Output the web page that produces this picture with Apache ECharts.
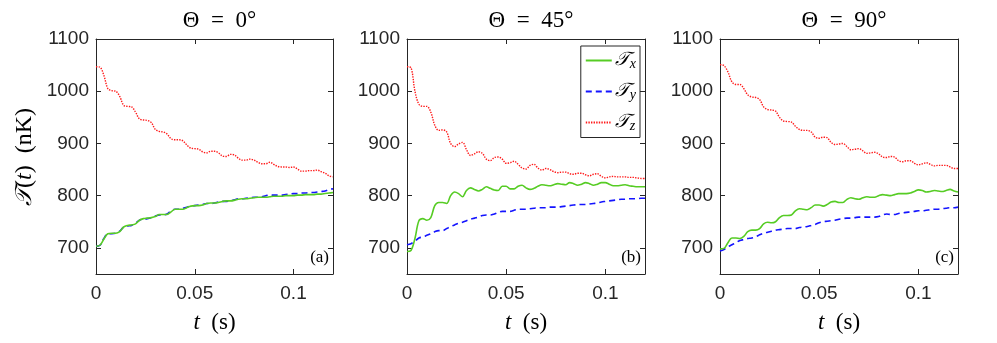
<!DOCTYPE html>
<html>
<head>
<meta charset="utf-8">
<script src="https://cdn.jsdelivr.net/npm/echarts@6/dist/echarts.min.js"></script>
<style>
html, body { margin: 0; padding: 0; background: #fff; }
#container { width: 997px; height: 343px; }
</style>
</head>
<body>
<div id="container"></div>
<script>
var dom = document.getElementById("container");
var myChart = echarts.init(dom);

// sample times (s)
var times = [0, 0.002, 0.004, 0.006, 0.008, 0.010, 0.012, 0.014, 0.016, 0.018,
    0.020, 0.022, 0.024, 0.026, 0.028, 0.030, 0.032, 0.034, 0.036, 0.038,
    0.040, 0.042, 0.044, 0.046, 0.048, 0.050, 0.052, 0.054, 0.056, 0.058,
    0.060, 0.062, 0.064, 0.066, 0.068, 0.070, 0.072, 0.074, 0.076, 0.078,
    0.080, 0.082, 0.084, 0.086, 0.088, 0.090, 0.092, 0.094, 0.096, 0.098,
    0.100, 0.102, 0.104, 0.106, 0.108, 0.110, 0.112, 0.114, 0.116, 0.118, 0.120];

var panelTitles = ['Θ\u2002=\u20020°', 'Θ\u2002=\u200245°', 'Θ\u2002=\u200290°'];
var panelTags = ['(a)', '(b)', '(c)'];
var seriesNames = ['Tx', 'Ty', 'Tz'];

// Theta = 0
var txA = [703, 705, 717, 727, 728, 728, 731, 740, 743, 744, 746, 753, 756, 757, 758, 760, 764, 764, 764, 769,
    774, 774, 774, 777, 780, 781, 781, 782, 785, 786, 786, 787, 789, 790, 790, 791, 793, 794, 794, 795,
    796, 797, 797, 797, 798, 799, 799, 799, 800, 800, 800, 801, 801, 802, 802, 802, 803, 803, 804, 805, 806];
var tyA = [703, 705, 718, 727, 727, 728, 732, 740, 742, 743, 747, 753, 755, 756, 758, 761, 763, 763, 765, 771,
    774, 774, 776, 778, 780, 781, 782, 783, 785, 785, 786, 788, 789, 789, 790, 792, 794, 794, 795, 796,
    797, 797, 798, 800, 801, 801, 801, 801, 802, 803, 804, 804, 805, 805, 806, 806, 807, 808, 809, 812, 813];
var tzA = [1047, 1046, 1030, 1005, 1001, 1000, 990, 973, 971, 970, 960, 947, 945, 944, 940, 927, 923, 922, 918, 909,
    907, 907, 905, 897, 891, 890, 889, 884, 882, 885, 885, 882, 876, 875, 879, 878, 872, 868, 868, 870,
    868, 864, 861, 861, 864, 860, 856, 855, 855, 854, 855, 851, 847, 847, 848, 848, 849, 846, 843, 838, 836];

// Theta = 45
var txB = [693, 695, 718, 752, 756, 753, 758, 781, 787, 787, 785, 800, 807, 804, 798, 810, 815, 812, 809, 812,
    817, 814, 811, 810, 818, 818, 813, 813, 818, 820, 815, 812, 814, 818, 821, 820, 819, 821, 823, 822,
    821, 825, 823, 820, 822, 825, 823, 820, 822, 825, 825, 822, 819, 819, 820, 821, 819, 818, 817, 817, 817];
var tyB = [706, 708, 713, 719, 721, 724, 727, 731, 733, 733, 737, 741, 744, 747, 749, 752, 755, 757, 759, 762,
    763, 763, 765, 768, 770, 770, 770, 772, 774, 774, 774, 775, 776, 777, 777, 777, 778, 778, 778, 779,
    780, 781, 782, 783, 783, 783, 784, 785, 786, 788, 789, 790, 791, 792, 793, 793, 794, 794, 794, 795, 795];
var tzB = [1047, 1045, 1000, 975, 971, 971, 960, 935, 925, 926, 922, 900, 894, 899, 902, 888, 877, 880, 884, 881,
    870, 867, 873, 874, 870, 862, 863, 866, 860, 853, 851, 858, 860, 853, 849, 852, 850, 846, 844, 845,
    845, 842, 841, 843, 843, 840, 838, 841, 842, 837, 834, 836, 837, 836, 836, 836, 835, 835, 834, 833, 833];

// Theta = 90
var txC = [698, 699, 710, 719, 719, 718, 722, 731, 734, 734, 737, 746, 749, 748, 750, 758, 762, 762, 763, 771,
    775, 774, 773, 777, 782, 782, 780, 783, 788, 789, 787, 787, 793, 796, 794, 793, 796, 798, 797, 797,
    800, 802, 801, 800, 802, 804, 804, 804, 805, 808, 811, 810, 807, 808, 810, 809, 808, 810, 812, 809, 807];
var tyC = [694, 697, 702, 706, 710, 714, 716, 718, 719, 721, 725, 728, 730, 732, 734, 735, 736, 737, 737, 737,
    739, 740, 741, 743, 745, 748, 750, 751, 752, 753, 755, 756, 757, 757, 758, 759, 759, 759, 759, 759,
    760, 763, 765, 764, 764, 766, 767, 768, 769, 770, 771, 771, 772, 773, 774, 774, 775, 776, 777, 777, 778];
var tzC = [1051, 1049, 1037, 1018, 1013, 1013, 1005, 993, 989, 988, 984, 970, 965, 964, 962, 950, 943, 942, 941, 933,
    927, 925, 925, 922, 912, 910, 912, 911, 902, 898, 899, 900, 894, 888, 889, 890, 886, 881, 882, 883,
    880, 874, 873, 875, 874, 867, 865, 867, 867, 862, 859, 861, 863, 860, 857, 858, 858, 858, 855, 852, 852];

var panelData = [[txA, tyA, tzA], [txB, tyB, tzB], [txC, tyC, tzC]];

var axisColor = '#262626';
var numFont = 'Liberation Sans';
var mathFont = 'Liberation Serif';

var gridLefts = [96, 407, 720];
var gridWidths = [237, 238, 238];

var lineStyles = [
    {color: '#56cc24', width: 1.6, type: 'solid'},
    {color: '#1414ff', width: 1.6, type: [6, 4]},
    {color: '#ff1a1a', width: 1.4, type: [1.4, 1.2]}
];

function pairs(vals) {
    var out = [];
    for (var i = 0; i < times.length; i++) {
        out.push([times[i], vals[i]]);
    }
    return out;
}

var grids = [], xAxes = [], yAxes = [], series = [], graphics = [], titles = [];

for (var p = 0; p < 3; p++) {
    grids.push({left: gridLefts[p], top: 39, width: gridWidths[p], height: 235, show: false});

    titles.push({
        text: panelTitles[p],
        left: gridLefts[p] + gridWidths[p] / 2,
        top: 4,
        textAlign: 'center',
        textStyle: {fontFamily: mathFont, fontSize: 23, fontWeight: 'normal', color: '#000'}
    });

    // bottom x axis with labels
    xAxes.push({
        type: 'value', gridIndex: p, min: 0, max: 0.12, interval: 0.05,
        position: 'bottom',
        name: '{i|t}\u2002(s)',
        nameLocation: 'middle', nameGap: 37,
        nameTextStyle: {
            fontFamily: mathFont, fontSize: 23, color: '#000',
            rich: {i: {fontFamily: mathFont, fontStyle: 'italic', fontSize: 23, color: '#000'}}
        },
        axisLine: {show: true, onZero: false, lineStyle: {color: axisColor, width: 1}},
        axisTick: {show: true, inside: true, length: 5, lineStyle: {color: axisColor}},
        axisLabel: {
            show: true, showMaxLabel: false, margin: 10, fontFamily: numFont, fontSize: 19, color: '#262626',
            formatter: function (v) { return String(v); }
        },
        splitLine: {show: false}
    });
    // top x axis, ticks only
    xAxes.push({
        type: 'value', gridIndex: p, min: 0, max: 0.12, interval: 0.05,
        position: 'top',
        axisLine: {show: true, onZero: false, lineStyle: {color: axisColor, width: 1}},
        axisTick: {show: true, inside: true, length: 5, lineStyle: {color: axisColor}},
        axisLabel: {show: false},
        splitLine: {show: false}
    });
    // left y axis with labels
    yAxes.push({
        type: 'value', gridIndex: p, min: 650, max: 1100,
        position: 'left',
        axisLine: {show: true, onZero: false, lineStyle: {color: axisColor, width: 1}},
        axisTick: {show: true, inside: true, length: 5, lineStyle: {color: axisColor}},
        axisLabel: {
            show: true, showMinLabel: false, margin: 7, fontFamily: numFont, fontSize: 19, color: '#262626',
            formatter: function (v) { return String(v); }
        },
        splitLine: {show: false}
    });
    // right y axis, ticks only
    yAxes.push({
        type: 'value', gridIndex: p, min: 650, max: 1100,
        position: 'right',
        axisLine: {show: true, onZero: false, lineStyle: {color: axisColor, width: 1}},
        axisTick: {show: true, inside: true, length: 5, lineStyle: {color: axisColor}},
        axisLabel: {show: false},
        splitLine: {show: false}
    });

    for (var s = 0; s < 3; s++) {
        series.push({
            name: seriesNames[s],
            type: 'line',
            xAxisIndex: p * 2,
            yAxisIndex: p * 2,
            symbol: 'none',
            smooth: 0.35,
            silent: true,
            z: 3 - s,
            lineStyle: lineStyles[s],
            itemStyle: {color: lineStyles[s].color},
            data: pairs(panelData[p][s])
        });
    }

    // panel tag (a), (b), (c)
    graphics.push({
        type: 'text',
        right: 997 - (gridLefts[p] + gridWidths[p]) + 4,
        top: 249,
        style: {text: panelTags[p], font: '17px ' + mathFont, fill: '#000'}
    });
}

// y axis title, drawn rotated beside panel (a)
graphics.push({
    type: 'text',
    x: 25,
    y: 157,
    rotation: Math.PI / 2,
    style: {
        text: '{c|𝒯}({i|t})\u2002(nK)',
        align: 'center',
        verticalAlign: 'middle',
        font: '24px ' + mathFont,
        fill: '#000',
        rich: {
            c: {fontFamily: 'DejaVu Serif', fontStyle: 'italic', fontSize: 23, fill: '#000'},
            i: {fontFamily: mathFont, fontStyle: 'italic', fontSize: 24, fill: '#000'}
        }
    }
});

option = {
    backgroundColor: '#fff',
    animation: false,
    title: titles,
    grid: grids,
    xAxis: xAxes,
    yAxis: yAxes,
    legend: {
        data: seriesNames,
        orient: 'vertical',
        right: 357,
        top: 46,
        padding: [5, 4, 4, 4],
        itemWidth: 26,
        itemHeight: 14,
        itemGap: 10.5,
        itemStyle: {opacity: 0},
        backgroundColor: '#fff',
        borderColor: axisColor,
        borderWidth: 1,
        borderRadius: 0,
        formatter: function (name) {
            return '{c|𝒯}{s|' + name.charAt(1) + '}';
        },
        textStyle: {
            padding: [0, 0, 0, -2],
            rich: {
                c: {fontFamily: 'DejaVu Serif', fontStyle: 'italic', fontSize: 19, color: '#000'},
                s: {fontFamily: mathFont, fontStyle: 'italic', fontSize: 14, color: '#000', verticalAlign: 'bottom', padding: [8, 0, 0, 0]}
            }
        }
    },
    graphic: graphics,
    series: series
};

if (option && typeof option === "object") {
    myChart.setOption(option, true);
}
</script>
</body>
</html>
